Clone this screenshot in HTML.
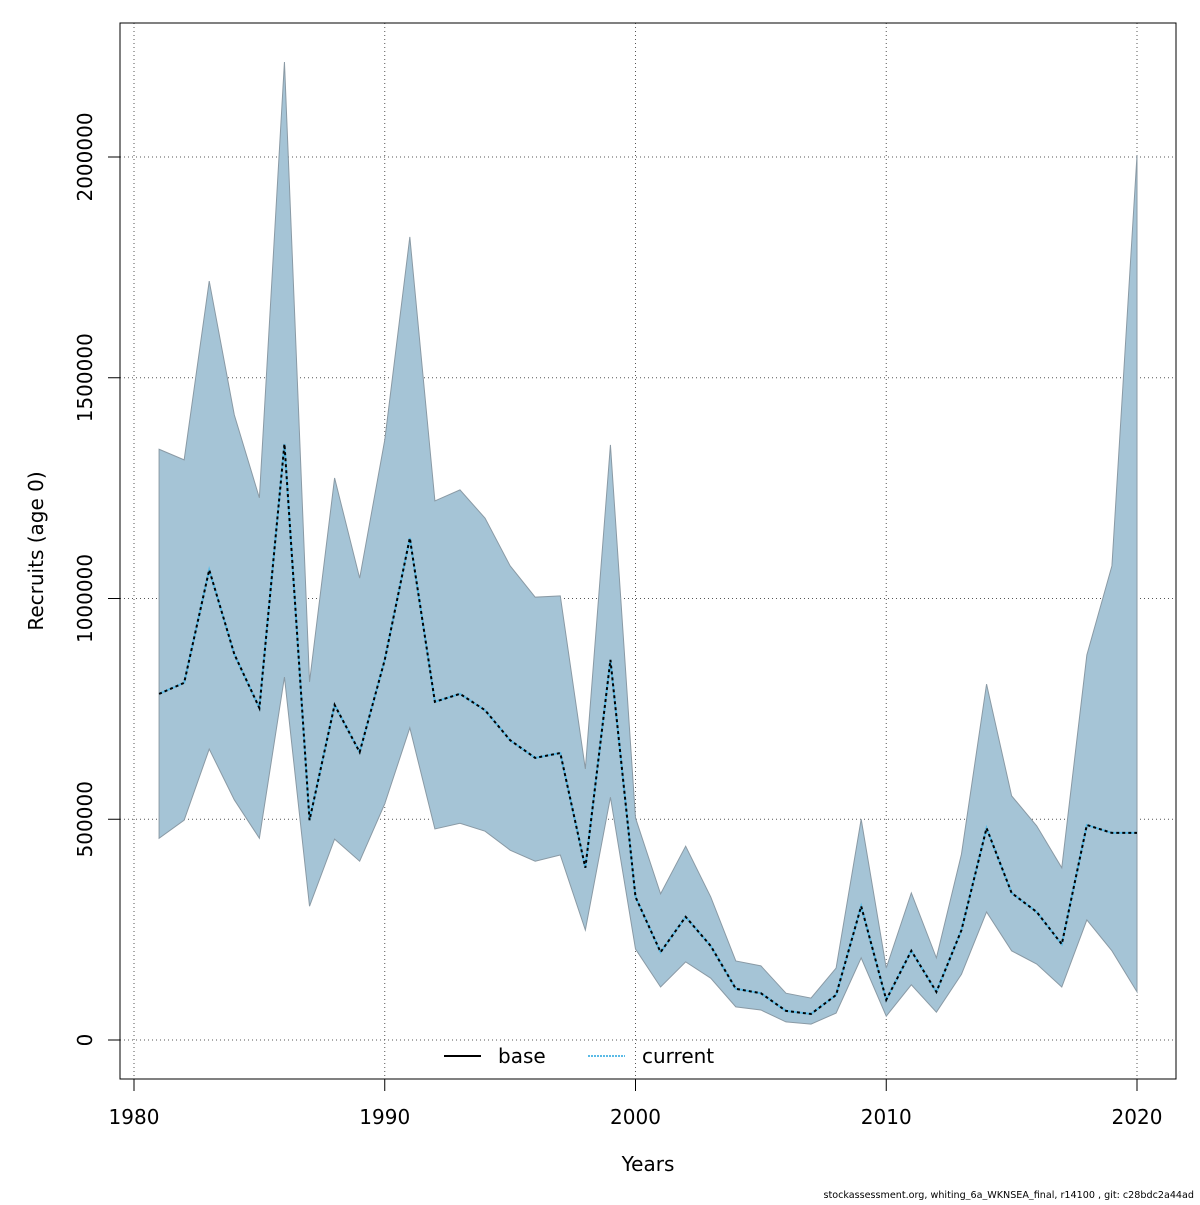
<!DOCTYPE html>
<html><head><meta charset="utf-8"><style>
body{margin:0;background:#fff}
svg text{font-family:"DejaVu Sans","Liberation Sans",sans-serif;fill:#000}
</style></head><body>
<svg id="chart" width="1200" height="1200">
<rect width="1200" height="1200" fill="#fff"/>
<g id="grid"></g>
<g id="band"></g>
<g id="lines"></g>
<rect x="120" y="23" width="1056" height="1056" fill="none" stroke="#000"/>
<g id="axes"></g>
<text x="648" y="1171" font-size="20" text-anchor="middle">Years</text>
<text transform="translate(43,551) rotate(-90)" font-size="20" text-anchor="middle">Recruits (age 0)</text>
<g>
<line x1="444" y1="1056" x2="481" y2="1056" stroke="#000" stroke-width="2"/>
<text x="498" y="1063" font-size="20">base</text>
<line x1="588" y1="1056" x2="625" y2="1056" stroke="#5bbbe6" stroke-width="2" stroke-dasharray="2,1"/>
<text x="642" y="1063" font-size="20">current</text>
</g>
<text x="1194" y="1198" font-size="9.6" text-anchor="end">stockassessment.org, whiting_6a_WKNSEA_final, r14100 , git: c28bdc2a44ad</text>
</svg>
<script>
const years=[1981,1982,1983,1984,1985,1986,1987,1988,1989,1990,1991,1992,1993,1994,1995,1996,1997,1998,1999,2000,2001,2002,2003,2004,2005,2006,2007,2008,2009,2010,2011,2012,2013,2014,2015,2016,2017,2018,2019,2020];
const recMid=[784,809,1065,874,752,1350,498,759,652,861,1137,766,784,747,679,639,650,390,861,324,199,279,213,116,106,66,59,102,303,91,202,109,249,480,333,290,217,487,469,469];
const recLow=[457,498,659,544,457,822,303,455,405,535,707,478,491,473,430,405,419,249,550,206,120,177,140,75,68,41,36,61,186,54,125,63,149,290,202,172,120,272,202,109];
const recHigh=[1338,1314,1719,1416,1228,2215,811,1273,1046,1359,1819,1221,1246,1182,1074,1003,1006,614,1348,503,331,439,324,179,168,106,95,163,500,163,333,186,421,806,553,485,390,872,1074,2004];
const xTicks=[1980,1990,2000,2010,2020];
const yTicks=[0,500000,1000000,1500000,2000000];
const NS='http://www.w3.org/2000/svg';
const xs=y=>134+(y-1980)*25.075;
const ys=v=>1040-v*0.0004415;
function mk(tag,attrs,parent){const e=document.createElementNS(NS,tag);for(const k in attrs)e.setAttribute(k,attrs[k]);parent.appendChild(e);return e;}
const grid=document.getElementById('grid'),axes=document.getElementById('axes');
xTicks.forEach(t=>{
 const g=mk('line',{x1:xs(t),x2:xs(t),y1:23,y2:1079,stroke:'#555','stroke-dasharray':'1,3'},grid);
 
 
 const tk=mk('line',{x1:xs(t),x2:xs(t),y1:1079,y2:1091,stroke:'#000'},axes);
 
 
 const tx=mk('text',{x:xs(t),y:1124,'font-size':20,'text-anchor':'middle'},axes);tx.textContent=t;
 
 
});
yTicks.forEach(t=>{
 const g=mk('line',{x1:120,x2:1176,y1:ys(t),y2:ys(t),stroke:'#555','stroke-dasharray':'1,3'},grid);
 
 
 const tk=mk('line',{x1:108,x2:120,y1:ys(t),y2:ys(t),stroke:'#000'},axes);
 
 
 const tx=mk('text',{transform:`translate(92,${ys(t)}) rotate(-90)`,'font-size':20,'text-anchor':'middle'},axes);tx.textContent=t;
 
 
});
let pts=years.map((y,i)=>xs(y)+','+ys(recHigh[i]*1000));
for(let i=years.length-1;i>=0;i--)pts.push(xs(years[i])+','+ys(recLow[i]*1000));
const band=mk('polygon',{points:pts.join(' '),fill:'#a5c4d6',stroke:'#8a9aa5','stroke-width':1},document.getElementById('band'));


const mp=years.map((y,i)=>xs(y)+','+ys(recMid[i]*1000)).join(' ');
const lines=document.getElementById('lines');
const c=mk('polyline',{points:mp,fill:'none',stroke:'#5bbbe6','stroke-width':2},lines);


const b=mk('polyline',{points:mp,fill:'none',stroke:'#000','stroke-width':2,'stroke-dasharray':'3,3'},lines);


</script>
</body></html>
